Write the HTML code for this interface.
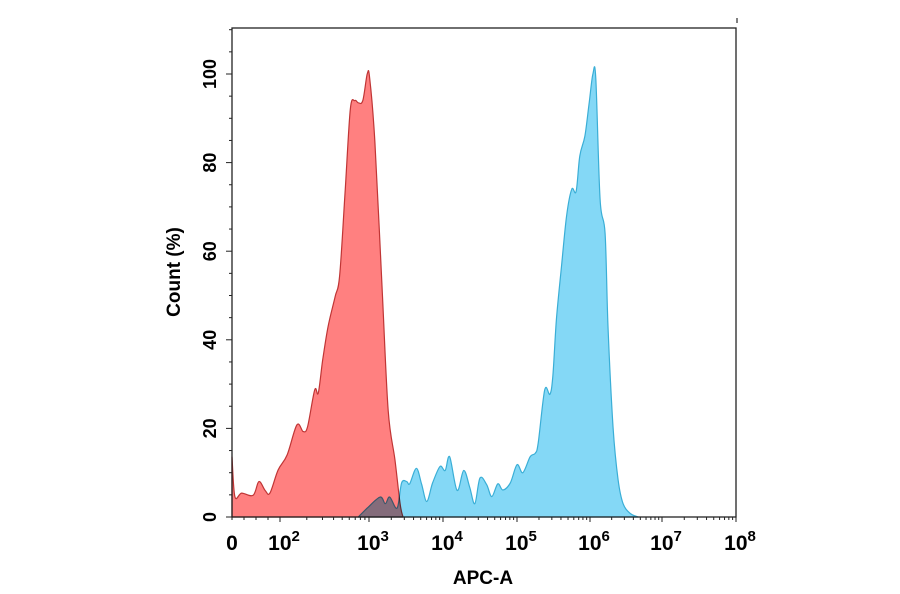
<!DOCTYPE html>
<html><head><meta charset="utf-8"><style>
body{margin:0;background:#fff}
svg{display:block;font-family:"Liberation Sans",Arial,sans-serif}
</style></head><body>
<svg id="chart" width="900" height="594" viewBox="0 0 900 594">
<g id="series"></g>
<g id="axes"></g>
<text x="483" y="584" text-anchor="middle" font-size="19" font-weight="bold">APC-A</text>
<text transform="translate(180,272) rotate(-90)" text-anchor="middle" font-size="19" font-weight="bold">Count (%)</text>
<line x1="737" y1="18" x2="737" y2="23" stroke="#000"/>
</svg>
<script>
// x in axis decade units (0 = zero, 2 = 10^2 ... 8 = 10^8)
const xTickDecades = [0,2,3,4,5,6,7,8];
const xTickExps = ["", "2","3","4","5","6","7","8"];
const yTicks = [0,20,40,60,80,100];
const redX = [0,0.12,0.40,0.88,1.12,1.38,1.58,1.92,2.08,2.19,2.26,2.31,2.39,2.43,2.48,2.54,2.62,2.67,2.73,2.79,2.84,2.88,2.93,2.98,3.01,3.08,3.18,3.26,3.35,3.42,3.46];
const redY = [13.6,4.6,5.4,4.9,8,6,5.4,10.6,14,20.8,19.3,20.4,28.7,28,35.5,43,49.8,54.4,73,92,94,93.5,94,100,99,84.6,50.7,24,13,3,0];
const blueX = [2.88,2.98,3.15,3.22,3.28,3.38,3.44,3.51,3.55,3.64,3.71,3.78,3.86,3.96,4.03,4.09,4.19,4.28,4.36,4.43,4.50,4.59,4.66,4.74,4.81,4.91,5.00,5.08,5.18,5.25,5.29,5.38,5.45,5.49,5.54,5.61,5.68,5.75,5.81,5.86,5.93,5.99,6.04,6.08,6.14,6.21,6.25,6.32,6.39,6.46,6.56,6.67];
const blueY = [0,2,4.5,3,4.5,2,7.7,8,7.5,11,7.5,3.5,7.7,11.4,10.5,13.6,6,10.5,6.8,3,8.8,7.3,4.6,7.5,6.1,7.7,11.8,10,13.6,14.4,16.7,28.7,27.7,31.7,44.6,56.6,68,74,73.5,81.5,86,93.7,100,99,71.7,64,43,20.4,8.4,3,0.8,0];

const L=232,R=736,T=28,B=517;
const knotU=[0,2,3,4,5,6,7,8], knotP=[232,280,369,443,517,590,662,736];
function sx(u){for(let i=0;i<knotU.length-1;i++){if(u<=knotU[i+1]||i==knotU.length-2){const t=(u-knotU[i])/(knotU[i+1]-knotU[i]);return knotP[i]+t*(knotP[i+1]-knotP[i]);}}}
function sy(v){return B-(B-74)*v/100;}
const NS="http://www.w3.org/2000/svg";
function mk(tag,attrs,parent){const e=document.createElementNS(NS,tag);for(const k in attrs)e.setAttribute(k,attrs[k]);parent.appendChild(e);return e;}
const sg=document.getElementById('series'), ag=document.getElementById('axes');
function area(xs,ys,fill,stroke,blend){
  const pts=xs.map((x,i)=>[sx(x),Math.min(B,sy(ys[i]))]);
  let d=`M${pts[0][0]},${B} L${pts[0][0].toFixed(1)},${pts[0][1].toFixed(1)}`;
  for(let i=0;i<pts.length-1;i++){
    const p0=pts[Math.max(0,i-1)],p1=pts[i],p2=pts[i+1],p3=pts[Math.min(pts.length-1,i+2)];
    const c1=[p1[0]+(p2[0]-p0[0])/6,Math.min(B,p1[1]+(p2[1]-p0[1])/6)];
    const c2=[p2[0]-(p3[0]-p1[0])/6,Math.min(B,p2[1]-(p3[1]-p1[1])/6)];
    d+=` C${c1[0].toFixed(1)},${c1[1].toFixed(1)} ${c2[0].toFixed(1)},${c2[1].toFixed(1)} ${p2[0].toFixed(1)},${p2[1].toFixed(1)}`;
  }
  d+=` L${pts[pts.length-1][0]},${B} Z`;
  const p=mk('path',{d:d,fill:fill,stroke:stroke,'stroke-width':1.2,'stroke-linejoin':'round'},sg);
  if(blend)p.style.mixBlendMode='multiply';
  return p;
}
const bp=area(blueX,blueY,'#84d8f6','#3aaed6',false);


const rp=area(redX,redY,'#ff8080','#c03535',true);



const frame=mk('rect',{x:L,y:T,width:R-L,height:B-T,fill:'none',stroke:'#222','stroke-width':1.3},ag);


for(let v=0;v<=110;v+=5){
  const major=yTicks.includes(v);
  const t=mk('line',{x1:L-(major?6:3),x2:L,y1:sy(v),y2:sy(v),stroke:'#222','stroke-width':1},ag);
  
  
}
yTicks.forEach(v=>{
  const t=mk('text',{transform:`translate(216,${sy(v)}) rotate(-90)`,'text-anchor':'middle','font-size':18,'font-weight':'bold'},ag);
  t.textContent=String(v);
  
  
});
for(let d=2;d<8;d++){for(let m=1;m<10;m++){
  const u=d+Math.log10(m);const x=sx(u);
  const t=mk('line',{x1:x,x2:x,y1:B,y2:B+(m==1?5:3),stroke:'#222','stroke-width':1},ag);
  
  
}}
[0,0.5,1,1.5].forEach(u=>{const x=sx(u);const t=mk('line',{x1:x,x2:x,y1:B,y2:B+3,stroke:'#222'},ag);
  
  });
const e8=mk('line',{x1:sx(8),x2:sx(8),y1:B,y2:B+5,stroke:'#222'},ag);


xTickDecades.forEach((u,i)=>{
  const t=mk('text',{x:sx(u)+(i==0?0:4),y:550,'text-anchor':'middle','font-size':21,'font-weight':'bold'},ag);
  if(i==0){t.textContent='0';}
  else{t.textContent='10';const s=mk('tspan',{dy:-9,'font-size':15},t);s.textContent=xTickExps[i];}
  
  
});
</script>
</body></html>
